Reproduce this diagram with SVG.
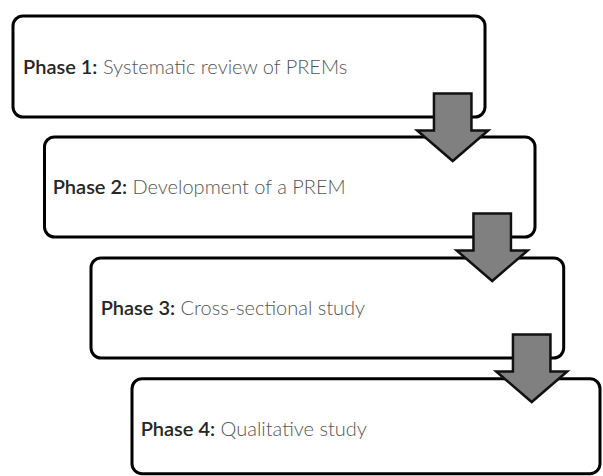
<svg xmlns="http://www.w3.org/2000/svg" width="603" height="476" viewBox="0 0 603 476">
  <style>
    .box { fill: #ffffff; stroke: #000000; stroke-width: 3; }
    .label { font-family: Lato, "Open Sans", "Liberation Sans", sans-serif; font-size: 20px; fill: #555555; font-weight: 300; }
    .label .lead { fill: #262626; font-weight: 600; }
    .flow { fill: #808080; stroke: #111111; stroke-width: 2.5; stroke-linejoin: miter; }
  </style>
  <defs>
    <!-- block arrow, origin at top centre of the shaft -->
    <path id="downArrow" d="M -18.75 0 H 18.75 V 37 H 35.5 L 0 67.5 L -35.5 37 H -18.75 Z"/>
  </defs>

  <g id="phase1">
    <rect class="box" x="13" y="16" width="472" height="101" rx="10"/>
    <text class="label" x="23" y="74"><tspan class="lead">Phase 1:</tspan> Systematic review of PREMs</text>
  </g>

  <g id="phase2">
    <rect class="box" x="44.5" y="137" width="490.5" height="100" rx="10"/>
    <text class="label" x="52.7" y="194" textLength="293"><tspan class="lead">Phase 2:</tspan> Development of a  PREM</text>
  </g>

  <g id="phase3">
    <rect class="box" x="91" y="258" width="472.7" height="100" rx="10"/>
    <text class="label" x="100.7" y="315"><tspan class="lead">Phase 3:</tspan> Cross-sectional study</text>
  </g>

  <g id="phase4">
    <rect class="box" x="132" y="378.7" width="468" height="95" rx="10"/>
    <text class="label" x="140.7" y="435.5"><tspan class="lead">Phase 4:</tspan> Qualitative study</text>
  </g>

  <g id="connectors">
    <use href="#downArrow" class="flow" transform="translate(452.7 93.5)"/>
    <use href="#downArrow" class="flow" transform="translate(492.2 213.5)"/>
    <use href="#downArrow" class="flow" transform="translate(531.7 334.5)"/>
  </g>
</svg>
